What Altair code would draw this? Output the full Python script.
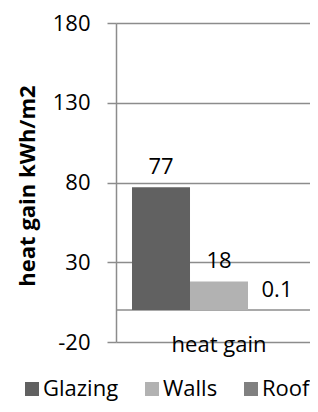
import altair as alt
import pandas as pd

category = ["heat gain"]
series = ["Glazing", "Walls", "Roof"]
values = [77, 18, 0.1]
value_labels = ["77", "18", "0.1"]
colors = ["#616161", "#b2b2b2", "#808080"]
y_ticks = [-20, 30, 80, 130, 180]

df = pd.DataFrame({
    "cat": category * len(series),
    "series": series,
    "value": values,
    "label": value_labels,
})
zero_df = pd.DataFrame({"value": [0]})

FONT = "Open Sans"
GRID = "#8c8c8c"
GW = 1.5

x = alt.X(
    "cat:N",
    scale=alt.Scale(paddingInner=0, paddingOuter=0.0575, align=0.8),
    axis=alt.Axis(title=None, domain=False, ticks=False, tickSize=0,
                  labelFontSize=22, labelFont=FONT, labelColor="black",
                  labelBaseline="alphabetic", labelPadding=9, labelAngle=0),
)
xo = alt.XOffset("series:N", sort=series,
                 scale=alt.Scale(domain=series, paddingInner=0, paddingOuter=0))
y = alt.Y(
    "value:Q",
    scale=alt.Scale(domain=[-20, 180], nice=False, zero=False),
    axis=alt.Axis(values=y_ticks, title="heat gain kWh/m2",
                  labelExpr="'' + datum.value",
                  titleFont=FONT, titleFontSize=22, titleFontWeight="bold",
                  titleColor="black", titleAngle=270, titleX=-89, titleY=162.5,
                  titleAlign="center", titleBaseline="middle",
                  labelFont=FONT, labelFontSize=22, labelColor="black",
                  labelPadding=17, tickSize=9, tickColor=GRID, tickWidth=GW,
                  domainColor=GRID, domainWidth=GW, grid=True,
                  gridColor=GRID, gridWidth=GW),
)

bars = alt.Chart(df).mark_bar().encode(
    x=x, xOffset=xo, y=y,
    color=alt.Color(
        "series:N", sort=series,
        scale=alt.Scale(domain=series, range=colors),
        legend=alt.Legend(title=None, orient="none", legendX=-95, legendY=355,
                          direction="horizontal", symbolType="square",
                          symbolSize=196, symbolStrokeWidth=0, symbolOpacity=1,
                          labelFontSize=22, labelFont=FONT, labelColor="black",
                          labelOffset=0, columnPadding=22, padding=0, labelLimit=0),
    ),
)

zero_rule = alt.Chart(zero_df).mark_rule(color=GRID, strokeWidth=GW).encode(
    y=alt.Y("value:Q")
)

labels = alt.Chart(df).mark_text(
    dy=-13, fontSize=22, font=FONT, baseline="alphabetic", color="black"
).encode(x=x, xOffset=xo, y=y, text="label:N")

chart = alt.layer(zero_rule, bars, labels).properties(
    width=194, height=319,
    autosize=alt.AutoSizeParams(type="none"),
    padding={"left": 108, "top": 15, "right": 0, "bottom": 62},
).configure_view(stroke=None)

chart.save("out.html", embed_options={"renderer": "svg", "actions": False})
